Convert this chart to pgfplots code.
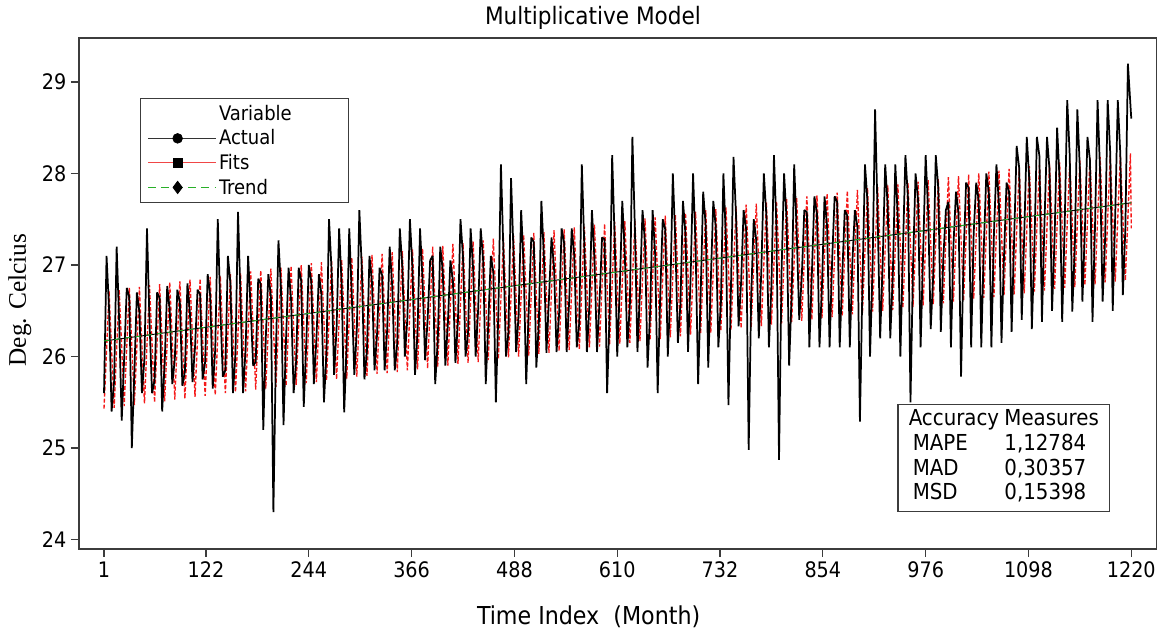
\documentclass[border=0pt]{standalone}
\usepackage{fontspec}
\setmainfont{DejaVu Sans Condensed}
\newfontfamily\serifont{Liberation Serif}
\usepackage{pgfplots}
\pgfplotsset{compat=1.18}
\usepackage{pgfplotstable}

\pgfplotstableread{
m y
1 25.6
4 27.1
7 26.52
10 25.4
13 25.73
16 27.2
19 26.38
22 25.3
25 26.00
28 26.75
31 26.65
34 25.0
37 25.83
40 26.7
43 26.49
46 25.6
49 25.98
52 27.4
55 26.38
58 25.6
61 25.74
64 26.7
67 26.64
70 25.4
73 25.93
76 26.77
79 26.51
82 25.7
85 25.97
88 26.73
91 26.59
94 25.68
97 25.84
100 26.8
103 26.47
106 25.72
109 26.10
112 26.73
115 26.68
118 25.75
121 25.94
124 26.9
127 26.67
130 25.65
133 26.08
136 27.5
139 26.53
142 25.78
145 25.85
148 27.1
151 26.80
154 25.6
157 26.03
160 27.58
163 26.64
166 25.6
169 26.08
172 27.1
175 26.53
178 25.9
181 25.94
184 26.85
187 26.79
190 25.2
193 26.21
196 26.9
199 26.66
202 24.3
205 26.04
208 27.27
211 26.74
214 25.25
217 26.19
220 26.97
223 26.62
226 25.6
229 25.95
232 26.97
235 26.83
238 25.45
241 26.14
244 27.0
247 26.82
250 25.7
253 26.18
256 26.9
259 26.68
262 25.5
265 26.05
268 27.5
271 26.95
274 25.8
277 26.31
280 27.4
283 26.79
286 25.39
289 26.15
292 27.4
295 26.68
298 25.8
301 26.29
304 27.6
307 26.94
310 25.75
313 26.06
316 27.1
319 26.81
322 25.85
325 26.24
328 26.97
331 26.89
334 25.85
337 26.29
340 27.2
343 26.77
346 25.85
349 26.15
352 27.4
355 26.98
358 26.0
361 26.42
364 27.5
367 26.97
370 25.8
373 26.25
376 27.4
379 26.83
382 25.96
385 26.40
388 27.05
391 27.10
394 25.7
397 26.16
400 27.2
403 26.94
406 25.9
409 26.35
412 27.05
415 26.83
418 25.93
421 26.39
424 27.5
427 27.09
430 26.0
433 26.26
436 27.4
439 26.96
442 26.0
445 26.52
448 27.4
451 27.04
454 25.7
457 26.36
460 27.1
463 26.92
466 25.5
469 26.50
472 28.1
475 27.13
478 26.0
481 26.27
484 27.95
487 27.12
490 26.05
493 26.45
496 27.6
499 26.98
502 25.7
505 26.50
508 27.3
511 27.25
514 25.88
517 26.36
520 27.7
523 27.09
526 26.04
529 26.63
532 27.3
535 26.98
538 26.05
541 26.46
544 27.4
547 27.24
550 26.05
553 26.61
556 27.4
559 27.11
562 26.1
565 26.37
568 28.1
571 27.19
574 26.05
577 26.56
580 27.6
583 27.07
586 26.05
589 26.60
592 27.3
595 27.28
598 25.6
601 26.47
604 28.2
607 27.27
610 26.0
613 26.73
616 27.7
619 27.13
622 26.1
625 26.56
628 28.4
631 27.39
634 26.05
637 26.71
640 27.6
643 27.24
646 25.88
649 26.47
652 27.6
655 27.12
658 25.6
661 26.66
664 27.5
667 27.39
670 26.0
673 26.70
676 28.0
679 27.25
682 26.15
685 26.57
688 27.7
691 27.34
694 26.05
697 26.83
700 28.0
703 27.21
706 25.7
709 26.67
712 27.8
715 27.43
718 25.88
721 26.81
724 27.7
727 27.41
730 26.1
733 26.58
736 28.0
739 27.28
742 25.47
745 26.76
748 28.18
751 27.54
754 26.33
757 26.81
760 27.6
763 27.39
766 24.98
769 26.67
772 27.5
775 27.27
778 26.2
781 26.94
784 28.0
787 27.54
790 26.1
793 26.77
796 28.2
799 27.40
802 24.87
805 26.92
808 28.0
811 27.49
814 25.9
817 26.68
820 28.1
823 27.36
826 26.4
829 26.87
832 27.6
835 27.58
838 26.1
841 26.91
844 27.75
847 27.56
850 26.1
853 26.78
856 27.75
859 27.43
862 26.1
865 27.04
868 27.75
871 27.69
874 26.1
877 26.88
880 27.6
883 27.54
886 26.1
889 27.02
892 27.6
895 27.42
898 25.29
901 26.79
904 28.1
907 27.69
910 26.0
913 26.97
916 28.7
919 27.55
922 26.2
925 27.02
928 28.1
931 27.64
934 26.2
937 26.88
940 28.1
943 27.51
946 26.0
949 27.15
952 28.2
955 27.73
958 25.5
961 26.98
964 28.0
967 27.71
970 26.1
973 27.13
976 28.2
979 27.58
982 26.3
985 26.89
988 28.2
991 27.84
994 26.27
997 27.08
1000 27.6
1003 27.69
1006 26.1
1009 27.22
1012 27.8
1015 27.57
1018 25.78
1021 27.09
1024 27.9
1027 27.84
1030 26.1
1033 27.35
1036 27.9
1039 27.70
1042 26.1
1045 27.19
1048 28.0
1051 27.79
1054 26.1
1057 27.33
1060 28.1
1063 27.66
1066 26.15
1069 27.10
1072 27.9
1075 27.80
1078 26.27
1081 27.28
1084 28.3
1087 28.06
1090 26.4
1093 27.33
1096 28.4
1099 27.93
1102 26.3
1105 27.19
1108 28.4
1111 28.19
1114 26.38
1117 27.46
1120 28.4
1123 28.04
1126 26.5
1129 27.29
1132 28.5
1135 27.92
1138 26.38
1141 27.44
1144 28.8
1147 28.19
1150 26.49
1153 27.20
1156 28.7
1159 28.05
1162 26.6
1165 27.39
1168 28.4
1171 28.14
1174 26.38
1177 27.43
1180 28.8
1183 28.01
1186 26.6
1189 27.30
1192 28.8
1195 28.23
1198 26.5
1201 27.56
1204 28.8
1207 28.21
1210 26.67
1213 27.40
1216 29.2
1220 28.6
}\actualdata

\pgfplotstableread{
m y
1 25.43
7 26.72
13 25.44
19 26.73
25 25.46
31 26.75
37 25.47
43 26.76
49 25.49
55 26.78
61 25.50
67 26.79
73 25.51
79 26.81
85 25.53
91 26.82
97 25.54
103 26.84
109 25.56
115 26.85
121 25.57
127 26.87
133 25.58
139 26.88
145 25.60
151 26.90
157 25.61
163 26.91
169 25.62
175 26.93
181 25.64
187 26.94
193 25.65
199 26.96
205 25.67
211 26.97
217 25.68
223 26.99
229 25.69
235 27.00
241 25.71
247 27.02
253 25.72
259 27.03
265 25.74
271 27.05
277 25.75
283 27.06
289 25.76
295 27.08
301 25.78
307 27.09
313 25.79
319 27.11
325 25.81
331 27.12
337 25.82
343 27.14
349 25.83
355 27.15
361 25.85
367 27.17
373 25.86
379 27.18
385 25.87
391 27.20
397 25.89
403 27.21
409 25.90
415 27.23
421 25.92
427 27.24
433 25.93
439 27.26
445 25.94
451 27.27
457 25.96
463 27.29
469 25.97
475 27.30
481 25.99
487 27.32
493 26.00
499 27.33
505 26.01
511 27.35
517 26.03
523 27.36
529 26.04
535 27.38
541 26.06
547 27.39
553 26.07
559 27.41
565 26.08
571 27.42
577 26.10
583 27.44
589 26.11
595 27.45
601 26.13
607 27.47
613 26.14
619 27.48
625 26.15
631 27.49
637 26.17
643 27.51
649 26.18
655 27.52
661 26.19
667 27.54
673 26.21
679 27.55
685 26.22
691 27.57
697 26.24
703 27.58
709 26.25
715 27.60
721 26.26
727 27.61
733 26.28
739 27.63
745 26.29
751 27.64
757 26.31
763 27.66
769 26.32
775 27.67
781 26.33
787 27.69
793 26.35
799 27.70
805 26.36
811 27.72
817 26.38
823 27.73
829 26.39
835 27.75
841 26.40
847 27.76
853 26.42
859 27.78
865 26.43
871 27.79
877 26.44
883 27.81
889 26.46
895 27.82
901 26.47
907 27.84
913 26.49
919 27.85
925 26.50
931 27.87
937 26.51
943 27.88
949 26.53
955 27.90
961 26.54
967 27.91
973 26.56
979 27.93
985 26.57
991 27.94
997 26.58
1003 27.96
1009 26.60
1015 27.97
1021 26.61
1027 27.99
1033 26.63
1039 28.00
1045 26.64
1051 28.02
1057 26.65
1063 28.03
1069 26.67
1075 28.05
1081 26.68
1087 28.06
1093 26.69
1099 28.08
1105 26.71
1111 28.09
1117 26.72
1123 28.11
1129 26.74
1135 28.12
1141 26.75
1147 28.14
1153 26.76
1159 28.15
1165 26.78
1171 28.17
1177 26.79
1183 28.18
1189 26.81
1195 28.20
1201 26.82
1207 28.21
1213 26.83
1219 28.22
1220 27.40
}\fitsdata

\pgfplotstableread{
m y
1 26.17
1220 27.68
}\trenddata

\definecolor{fitred}{RGB}{245,25,25}
\definecolor{legred}{RGB}{240,70,70}
\definecolor{trendgreen}{RGB}{40,175,40}
\definecolor{axgray}{RGB}{60,60,60}

\begin{document}
\begin{tikzpicture}
\begin{axis}[
  scale only axis,
  width=808pt, height=383pt,
  xmin=-28.7, xmax=1250, ymin=23.9, ymax=29.48,
  axis line style={axgray, line width=1.1pt},
  xtick={1,122,244,366,488,610,732,854,976,1098,1220},
  ytick={24,25,26,27,28,29},
  tick align=outside, xtick pos=bottom, ytick pos=left,
  major tick length=6pt,
  tick style={axgray, line width=0.9pt},
  /pgf/number format/assume math mode=true,
  /pgf/number format/1000 sep={},
  scaled ticks=false,
  ticklabel style={font=\fontsize{16}{18}\selectfont},
  title={Multiplicative Model},
  every axis title/.style={at={(axis description cs:0.477,1.039)}, anchor=center, font=\fontsize{18}{20}\selectfont},
  xlabel={Time Index\ \ (Month)},
  every axis x label/.style={at={(axis description cs:0.473,-0.133)}, anchor=center, font=\fontsize{18.5}{20}\selectfont},
  ylabel={Deg. Celcius},
  every axis y label/.style={at={(axis description cs:-0.0548,0.487)}, anchor=center, rotate=90, font=\serifont\fontsize{19}{21}\selectfont},
  legend style={at={(0.0566,0.8826)}, anchor=north west, draw=axgray, line width=0.9pt,
    font=\fontsize{15}{16}\selectfont, cells={anchor=west}, row sep=1.5pt,
    inner xsep=5pt, inner ysep=3pt},
  legend image code/.code={
    \path (0cm,0cm) -- (1.78cm,0cm);
    \draw[#1, mark=none] (0cm,0cm) -- (1.55cm,0cm);
    \draw[#1, solid, line width=0.6pt] plot coordinates {(0.78cm,0cm)};
  },
]
\addlegendimage{empty legend}
\addlegendentry{\makebox[90pt][l]{Variable}}
\addlegendimage{black!80, line width=0.9pt, mark=*, mark size=3.6pt, mark options={black, fill=black}}
\addlegendentry{Actual}
\addlegendimage{legred, line width=0.9pt, mark=square*, mark size=3.4pt, mark options={black, fill=black}}
\addlegendentry{Fits}
\addlegendimage{trendgreen, line width=1.2pt, dash pattern=on 6pt off 4pt, mark=diamond*, mark size=4.6pt, mark options={black, fill=black}}
\addlegendentry{Trend}

\addplot[forget plot, fitred, line width=1.0pt, dash pattern=on 3pt off 1.5pt] table[x=m, y=y] {\fitsdata};
\addplot[forget plot, black, line width=1.3pt, line join=bevel] table[x=m, y=y] {\actualdata};
\addplot[forget plot, black, line width=0.7pt] table[x=m, y=y] {\trenddata};
\addplot[forget plot, trendgreen, line width=0.7pt, dash pattern=on 4pt off 4pt] table[x=m, y=y] {\trenddata};

\coordinate (acc) at (rel axis cs:0.957,0.072);
\coordinate (bbl) at (rel axis cs:-0.0733,-0.1663);
\coordinate (btr) at (rel axis cs:1.006,1.0744);
\end{axis}
\node[draw=axgray, line width=1pt, anchor=south east, fill=white, inner xsep=8pt, inner ysep=3pt,
  font=\fontsize{16.5}{18.5}\selectfont] at (acc)
  {\begin{tabular}{@{}l@{\hspace{4pt}}l@{}}
   Accuracy & Measures\\
   \hspace{3pt}MAPE & 1,12784\\
   \hspace{3pt}MAD & 0,30357\\
   \hspace{3pt}MSD & 0,15398
   \end{tabular}};
\pgfresetboundingbox
\path (bbl) rectangle (btr);
\end{tikzpicture}
\end{document}
